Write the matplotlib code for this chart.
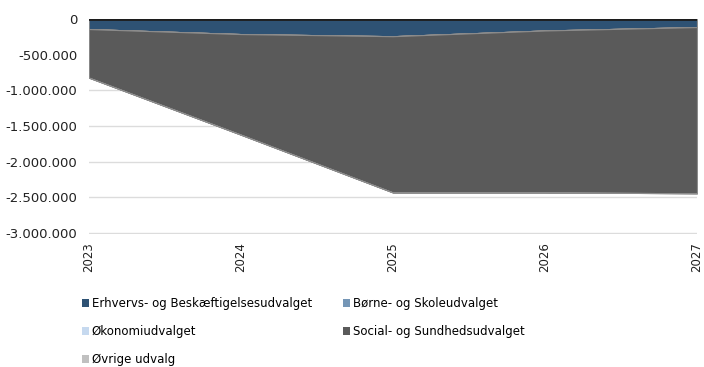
import matplotlib.pyplot as plt
from matplotlib.patches import Patch
from matplotlib.ticker import FuncFormatter

years = [2023, 2024, 2025, 2026, 2027]

# budget effects per committee (kr.)
erhverv = [-140000, -210000, -240000, -160000, -112000]
boerne = [0, 0, 0, 0, 0]
oekonomi = [0, 0, 0, 0, 0]
social = [-680000, -1410000, -2190000, -2270000, -2330000]
oevrige = [0, 0, 0, 0, 0]

names = [
    "Erhvervs- og Beskæftigelsesudvalget",
    "Børne- og Skoleudvalget",
    "Økonomiudvalget",
    "Social- og Sundhedsudvalget",
    "Øvrige udvalg",
]
colors = ["#2e5274", "#7596b6", "#c6d9ef", "#5a5a5a", "#c0c0c0"]

y_ticks = [0, -500000, -1000000, -1500000, -2000000, -2500000, -3000000]


def thousands(v, pos):
    return f"{int(v):,}".replace(",", ".")


fig = plt.figure(figsize=(7.04, 3.67), dpi=100)
ax = fig.add_axes([0.126, 0.362, 0.864, 0.586])

series = [erhverv, boerne, oekonomi, social, oevrige]
ax.stackplot(years, *series, colors=colors, edgecolor="#8c8c8c", linewidth=0.8, zorder=2)
ax.plot(years, [0] * len(years), color="#1c1c1c", linewidth=2, zorder=3)

ax.set_xlim(years[0], years[-1])
ax.set_ylim(-3015000, 0)
ax.set_yticks(y_ticks)
ax.yaxis.set_major_formatter(FuncFormatter(thousands))
ax.set_xticks(years)
ax.set_xticklabels([str(y) for y in years], rotation=90)
ax.grid(axis="y", color="#dcdcdc", linewidth=1, zorder=0)
ax.tick_params(axis="y", length=0, pad=8, labelsize=9.5, colors="#222222")
ax.tick_params(axis="x", length=0, pad=6, labelsize=8.5, colors="#222222")
for side in ax.spines.values():
    side.set_visible(False)

handles = [Patch(facecolor=c, edgecolor="none") for c in colors]
order = [0, 2, 4, 1, 3]
fig.legend(
    [handles[i] for i in order],
    [names[i] for i in order],
    ncol=2,
    loc="upper left",
    bbox_to_anchor=(0.116, 0.19),
    frameon=False,
    fontsize=8.5,
    handlelength=0.65,
    handleheight=0.65,
    handletextpad=0.2,
    labelspacing=1.25,
    columnspacing=2.6,
    borderaxespad=0,
    borderpad=0,
)

fig.savefig("out.png", dpi=100)
